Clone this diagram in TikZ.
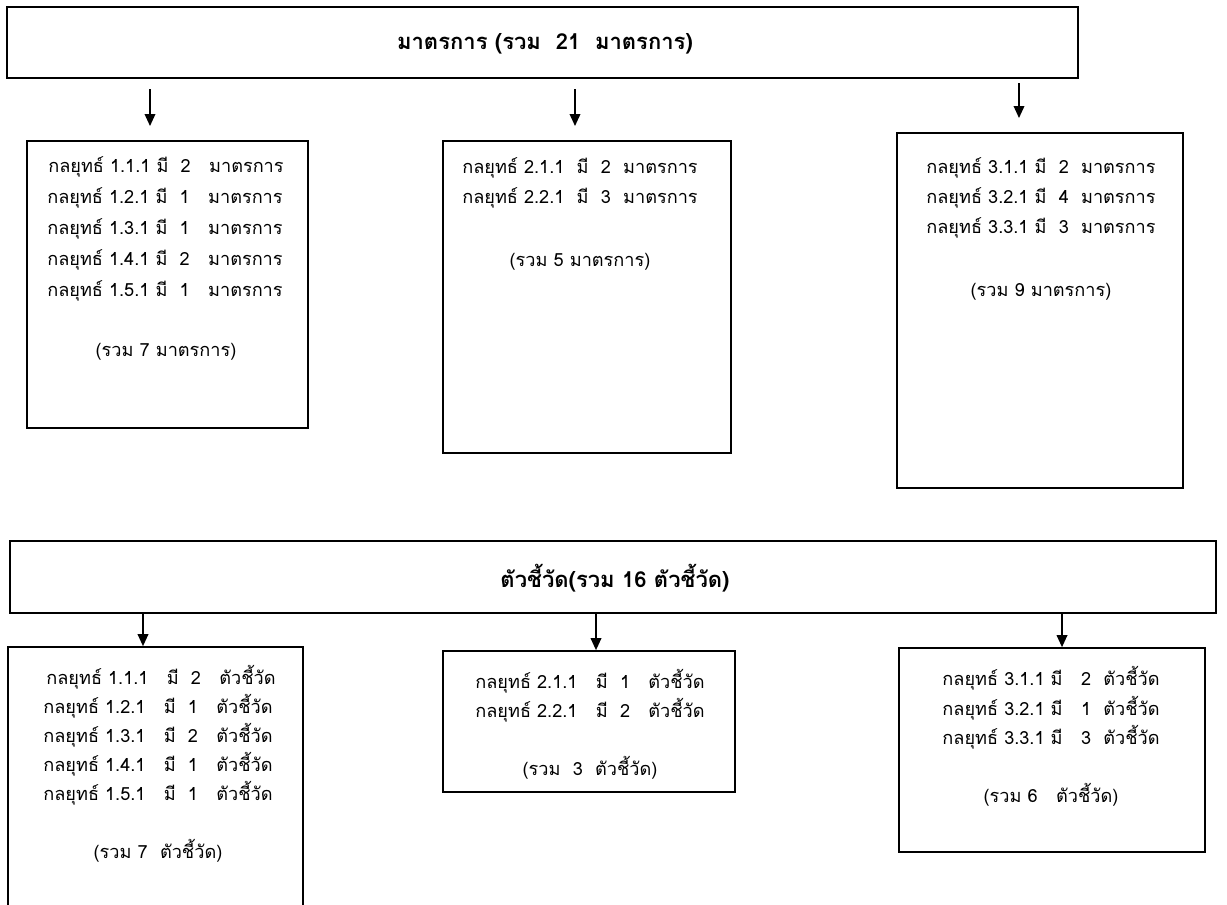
\documentclass[tikz,border=0pt]{standalone}
\usepackage{fontspec}
\newfontfamily\thaifont[Script=Thai]{Loma}
\usetikzlibrary{arrows.meta,fit}
\begin{document}
\begin{tikzpicture}[x=0.75pt,y=-0.75pt,
  font=\thaifont\fontsize{13.6}{15}\selectfont,
  boxnode/.style={draw, line width=1.3pt, inner sep=0pt},
  txt/.style={inner sep=0pt, anchor=center},
  head/.style={inner sep=0pt, anchor=center, font=\thaifont\bfseries\fontsize{16.5}{18}\selectfont},
  arr/.style={-{Triangle[width=8pt,length=9pt]}, line width=1.1pt}]
\useasboundingbox (0,0) rectangle (1227,904);
% top header
\node[boxnode, fit={(7,7) (1078,78)}] (T) {};
\node[head] (Tt) at (545,44) {มาตรการ (รวม~~21~~มาตรการ)};
% top arrows (free)
\coordinate (a1s) at (150,89); \coordinate (a1e) at (150,126);
\coordinate (a2s) at (575,89); \coordinate (a2e) at (575,126);
\coordinate (a3s) at (1019,83); \coordinate (a3e) at (1019,118);
\draw[arr] (a1s) -- (a1e);
\draw[arr] (a2s) -- (a2e);
\draw[arr] (a3s) -- (a3e);
% L1
\node[boxnode, fit={(27,141) (308,428)}] (L1) {};
\node[txt] (L1a) at (166,167) {กลยุทธ์ 1.1.1 มี~~2~~~มาตรการ};
\node[txt] (L1b) at (165,198) {กลยุทธ์ 1.2.1 มี~~1~~~มาตรการ};
\node[txt] (L1c) at (165,229) {กลยุทธ์ 1.3.1 มี~~1~~~มาตรการ};
\node[txt] (L1d) at (165,260) {กลยุทธ์ 1.4.1 มี~~2~~~มาตรการ};
\node[txt] (L1e) at (165,291) {กลยุทธ์ 1.5.1 มี~~1~~~มาตรการ};
\node[txt] (L1s) at (166,352) {(รวม 7 มาตรการ)};
% M1
\node[boxnode, fit={(443,141) (731,453)}] (M1) {};
\node[txt] (M1a) at (580,168) {กลยุทธ์ 2.1.1~~มี~~2~~มาตรการ};
\node[txt] (M1b) at (580,198) {กลยุทธ์ 2.2.1~~มี~~3~~มาตรการ};
\node[txt] (M1s) at (580,262) {(รวม 5 มาตรการ)};
% R1
\node[boxnode, fit={(897,133) (1183,488)}] (R1) {};
\node[txt] (R1a) at (1041,168) {กลยุทธ์ 3.1.1 มี~~2~~มาตรการ};
\node[txt] (R1b) at (1041,198) {กลยุทธ์ 3.2.1 มี~~4~~มาตรการ};
\node[txt] (R1c) at (1041,228) {กลยุทธ์ 3.3.1 มี~~3~~มาตรการ};
\node[txt] (R1s) at (1041,292) {(รวม 9 มาตรการ)};
% bottom header
\node[boxnode, fit={(10,541) (1216,613)}] (B) {};
\node[head] (Bt) at (615,578) {ตัวชี้วัด(รวม 16 ตัวชี้วัด)};
% L2
\node[boxnode, fit={(8,647) (303,915)}] (L2) {};
\node[txt] (L2a) at (161,677) {กลยุทธ์ 1.1.1~~~มี~~2~~~ตัวชี้วัด};
\node[txt] (L2b) at (158,706) {กลยุทธ์ 1.2.1~~~มี~~1~~~ตัวชี้วัด};
\node[txt] (L2c) at (158,735) {กลยุทธ์ 1.3.1~~~มี~~2~~~ตัวชี้วัด};
\node[txt] (L2d) at (158,764) {กลยุทธ์ 1.4.1~~~มี~~1~~~ตัวชี้วัด};
\node[txt] (L2e) at (158,793) {กลยุทธ์ 1.5.1~~~มี~~1~~~ตัวชี้วัด};
\node[txt] (L2s) at (158,851) {(รวม 7~~ตัวชี้วัด)};
% M2
\node[boxnode, fit={(443,651) (735,792)}] (M2) {};
\node[txt] (M2a) at (590,681) {กลยุทธ์ 2.1.1~~~มี~~1~~~ตัวชี้วัด};
\node[txt] (M2b) at (590,710) {กลยุทธ์ 2.2.1~~~มี~~2~~~ตัวชี้วัด};
\node[txt] (M2s) at (590,768) {(รวม~~3~~ตัวชี้วัด)};
% R2
\node[boxnode, fit={(899,648) (1205,852)}] (R2) {};
\node[txt] (R2a) at (1051,678) {กลยุทธ์ 3.1.1 มี~~~2~~ตัวชี้วัด};
\node[txt] (R2b) at (1051,708) {กลยุทธ์ 3.2.1 มี~~~1~~ตัวชี้วัด};
\node[txt] (R2c) at (1051,737) {กลยุทธ์ 3.3.1 มี~~~3~~ตัวชี้วัด};
\node[txt] (R2s) at (1051,795) {(รวม 6~~~ตัวชี้วัด)};
% bottom arrows
\coordinate (bx1) at (143,0);
\coordinate (bx2) at (596,0);
\coordinate (bx3) at (1062,0);
\draw[arr] (B.south -| bx1) -- (bx1 |- L2.north);
\draw[arr] (B.south -| bx2) -- (bx2 |- M2.north);
\draw[arr] (B.south -| bx3) -- (bx3 |- R2.north);
\end{tikzpicture}
\end{document}
